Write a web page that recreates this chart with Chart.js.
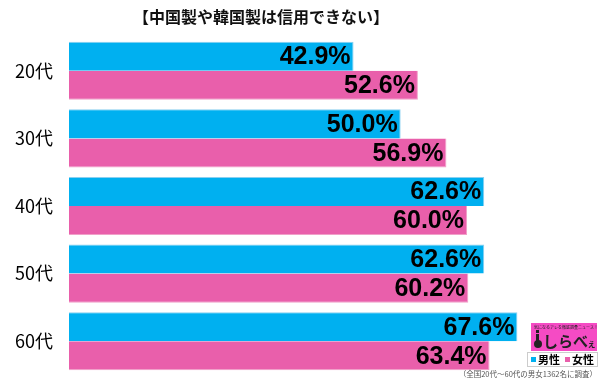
<!DOCTYPE html>
<html>
<head>
<meta charset="utf-8">
<script src="https://cdn.jsdelivr.net/npm/chart.js@4"></script>
<style>
  html, body { margin: 0; padding: 0; background: #fff; overflow: hidden; }
  canvas { display: block; }
</style>
</head>
<body>
<canvas id="myChart" width="600" height="380"></canvas>
<script>
let titleText = '【中国製や韓国製は信用できない】';
let labelsAge = ['20代', '30代', '40代', '50代', '60代'];
let dataMale = [42.9, 50.0, 62.6, 62.6, 67.6];
let dataFemale = [52.6, 56.9, 60.0, 60.2, 63.4];
let seriesNames = ['男性', '女性'];
let noteText = '（全国20代～60代の男女1362名に調査）';

let jpFont = '"Noto Sans CJK JP", "Noto Sans", sans-serif';

// title, bar value labels, logo, legend, footnote
let extras = {
    id: 'extras',
    afterDatasetsDraw(chart) {
        let ctx = chart.ctx;
        ctx.save();
        ctx.fillStyle = '#000';
        ctx.font = 'bold 25px "Liberation Sans", Arial, sans-serif';
        ctx.textAlign = 'right';
        ctx.textBaseline = 'middle';
        chart.data.datasets.forEach((ds, i) => {
            chart.getDatasetMeta(i).data.forEach((bar, j) => {
                ctx.fillText(ds.data[j].toFixed(1) + '%', bar.x - 3, bar.y + 1);
            });
        });
        ctx.restore();
    },
    afterDraw(chart) {
        let ctx = chart.ctx;
        ctx.save();
        // title
        ctx.fillStyle = '#111';
        ctx.font = 'bold 16px ' + jpFont;
        ctx.textAlign = 'center';
        ctx.textBaseline = 'middle';
        ctx.fillText(titleText, 261, 17);

        // logo
        ctx.fillStyle = '#f54bc4';
        ctx.fillRect(531, 323, 66, 28);
        ctx.fillStyle = '#222';
        ctx.font = '4px ' + jpFont;
        ctx.fillText('気になるアレを徹底調査ニュース！', 566, 327);
        ctx.font = 'bold 15px ' + jpFont;
        ctx.textAlign = 'left';
        ctx.fillText('しらべ', 543, 341);
        ctx.font = 'bold 9px ' + jpFont;
        ctx.fillText('ぇ', 587, 344);
        ctx.beginPath();
        ctx.arc(538, 344, 4, 0, Math.PI * 2);
        ctx.fill();
        ctx.fillRect(536, 334, 3, 9);
        ctx.fillRect(536, 330, 3, 3);

        // legend
        ctx.strokeStyle = '#ccc';
        ctx.lineWidth = 1;
        ctx.strokeRect(527.5, 352.5, 70, 14);
        ctx.font = 'bold 11px ' + jpFont;
        ctx.textBaseline = 'middle';
        let lx = 531;
        chart.data.datasets.forEach((ds, i) => {
            ctx.fillStyle = ds.backgroundColor;
            ctx.fillRect(lx, 357, 5, 5);
            ctx.fillStyle = '#000';
            ctx.fillText(seriesNames[i], lx + 7, 360);
            lx += 34;
        });

        // footnote
        ctx.fillStyle = '#555';
        ctx.font = '7.5px ' + jpFont;
        ctx.textAlign = 'right';
        ctx.fillText(noteText, 597, 374);
        ctx.restore();
    }
};

let myChart = new Chart(document.getElementById('myChart'), {
    type: 'bar',
    data: {
        labels: labelsAge,
        datasets: [
            {
                label: seriesNames[0],
                data: dataMale,
                backgroundColor: '#00b0f0',
                borderColor: '#8ad0f0',
                borderWidth: { top: 1, right: 1, bottom: 0, left: 0 },
                borderSkipped: 'left'
            },
            {
                label: seriesNames[1],
                data: dataFemale,
                backgroundColor: '#e95fab',
                borderColor: '#f0a0c8',
                borderWidth: { top: 0, right: 1, bottom: 1, left: 0 },
                borderSkipped: 'left'
            }
        ]
    },
    options: {
        indexAxis: 'y',
        responsive: false,
        animation: false,
        devicePixelRatio: 1,
        layout: { padding: { top: 37, bottom: 5, left: 0, right: 3 } },
        datasets: {
            bar: { categoryPercentage: 0.86, barPercentage: 1.0 }
        },
        scales: {
            x: {
                display: false,
                min: 0,
                max: 79.6
            },
            y: {
                grid: { display: false, drawTicks: false },
                border: { display: false },
                afterFit(scale) {
                    scale.width = 69;
                    scale.paddingTop = 0;
                    scale.paddingBottom = 0;
                },
                ticks: {
                    color: '#000',
                    padding: 16,
                    font: { size: 18, family: jpFont }
                }
            }
        },
        plugins: {
            legend: { display: false },
            title: { display: false },
            tooltip: { enabled: false }
        }
    },
    plugins: [extras]
});
</script>
</body>
</html>
